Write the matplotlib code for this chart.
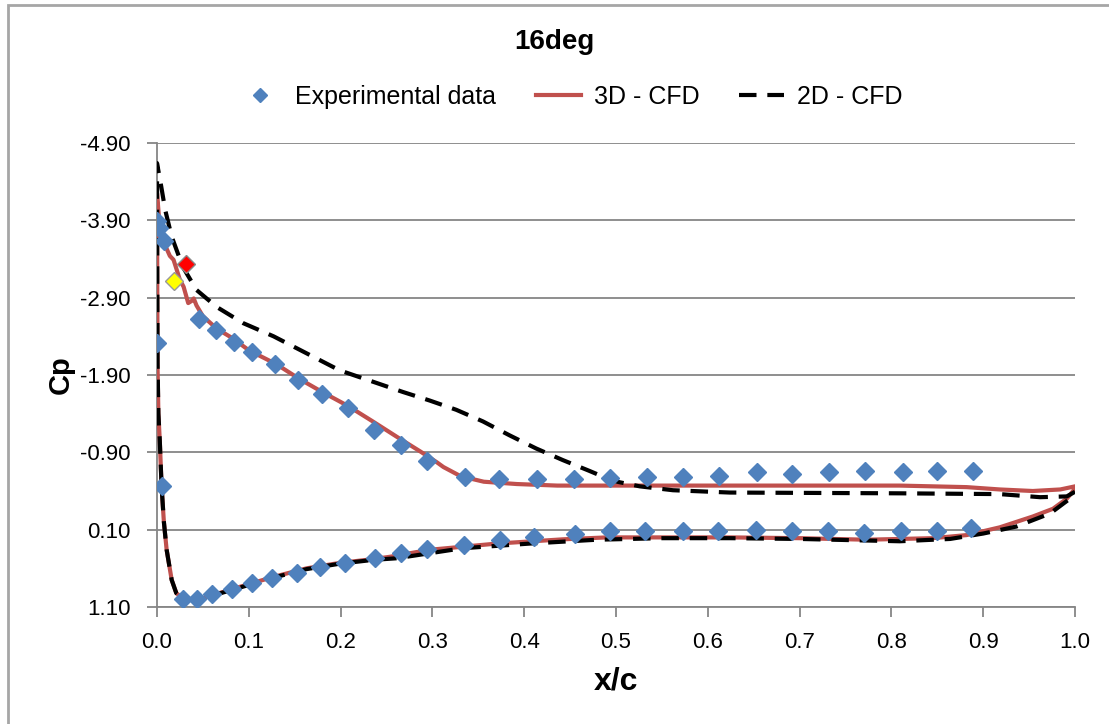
import numpy as np
import matplotlib
matplotlib.use("Agg")
import matplotlib.pyplot as plt
from matplotlib.patches import Rectangle

plt.rcParams['font.family'] = ['Liberation Sans', 'DejaVu Sans']

# -------------------------------
# DATA
# -------------------------------
# experimental data, suction side
x_exp_up = [0.000, 0.002, 0.008, 0.046, 0.064, 0.084, 0.103, 0.129, 0.154, 0.180,
            0.208, 0.236, 0.266, 0.294, 0.336, 0.373, 0.414, 0.454, 0.493, 0.534,
            0.573, 0.612, 0.654, 0.692, 0.732, 0.771, 0.813, 0.850, 0.889]
cp_exp_up = [-3.89, -3.80, -3.63, -2.63, -2.48, -2.33, -2.20, -2.04, -1.84, -1.65,
             -1.47, -1.19, -1.00, -0.79, -0.58, -0.56, -0.55, -0.55, -0.57, -0.58,
             -0.58, -0.60, -0.65, -0.62, -0.64, -0.66, -0.65, -0.66, -0.66]

# experimental data, pressure side
x_exp_lo = [0.000, 0.005, 0.028, 0.044, 0.060, 0.082, 0.103, 0.125, 0.153, 0.178,
            0.205, 0.237, 0.266, 0.294, 0.334, 0.374, 0.411, 0.455, 0.493, 0.532,
            0.573, 0.611, 0.652, 0.692, 0.731, 0.770, 0.811, 0.850, 0.887]
cp_exp_lo = [-2.31, -0.46, 1.00, 1.00, 0.93, 0.87, 0.79, 0.72, 0.66, 0.58,
             0.53, 0.46, 0.40, 0.35, 0.30, 0.24, 0.19, 0.16, 0.12, 0.12,
             0.12, 0.12, 0.10, 0.12, 0.12, 0.14, 0.12, 0.12, 0.08]

# two highlighted experimental points
x_red, cp_red = [0.032], [-3.34]
x_yellow, cp_yellow = [0.0185], [-3.12]

# 3D CFD, suction side
x_3d_up = [0.000, 0.003, 0.008, 0.014, 0.018, 0.025, 0.029, 0.034, 0.038, 0.040,
           0.043, 0.050, 0.065, 0.083, 0.100, 0.130, 0.155, 0.180, 0.208, 0.235,
           0.264, 0.287, 0.305, 0.312, 0.331, 0.356, 0.392, 0.436, 0.480, 0.540,
           0.624, 0.809, 0.882, 0.918, 0.954, 0.984, 1.000]
cp_3d_up = [-4.25, -3.82, -3.60, -3.44, -3.39, -3.13, -3.04, -2.83, -2.86, -2.89,
            -2.80, -2.66, -2.50, -2.37, -2.22, -2.04, -1.85, -1.68, -1.50, -1.30,
            -1.08, -0.91, -0.77, -0.71, -0.59, -0.52, -0.49, -0.47, -0.47, -0.47,
            -0.47, -0.47, -0.45, -0.42, -0.40, -0.42, -0.46]

# 3D CFD, pressure side
x_3d_lo = [0.000, 0.0003, 0.0006, 0.0015, 0.003, 0.005, 0.0075, 0.0105, 0.016, 0.021,
           0.029, 0.043, 0.061, 0.090, 0.127, 0.163, 0.199, 0.236, 0.254, 0.297,
           0.370, 0.442, 0.490, 0.624, 0.700, 0.773, 0.845, 0.882, 0.918, 0.954,
           0.976, 0.991, 1.000]
cp_3d_lo = [-4.25, -3.00, -2.00, -1.40, -1.06, -0.46, 0.00, 0.36, 0.75, 0.92,
            1.00, 1.01, 0.945, 0.84, 0.71, 0.60, 0.53, 0.48, 0.45, 0.36,
            0.28, 0.225, 0.20, 0.20, 0.21, 0.23, 0.21, 0.17, 0.07, -0.07,
            -0.17, -0.30, -0.43]

# 2D CFD, suction side
x_2d_up = [0.000, 0.004, 0.009, 0.016, 0.028, 0.043, 0.065, 0.094, 0.127,
           0.199, 0.236, 0.268, 0.297, 0.326, 0.355, 0.384, 0.413, 0.442, 0.471,
           0.497, 0.526, 0.562, 0.624, 0.809, 0.918, 0.962, 0.991, 1.000]
cp_2d_up = [-4.64, -4.38, -4.03, -3.69, -3.30, -3.00, -2.78, -2.57, -2.40,
            -1.96, -1.81, -1.68, -1.57, -1.45, -1.30, -1.12, -0.95, -0.80, -0.66,
            -0.53, -0.46, -0.41, -0.38, -0.37, -0.36, -0.32, -0.33, -0.39]

# 2D CFD, pressure side
x_2d_lo = [0.000, 0.0003, 0.0006, 0.0015, 0.003, 0.005, 0.0075, 0.0105, 0.016, 0.021,
           0.029, 0.043, 0.061, 0.090, 0.127, 0.163, 0.199, 0.236, 0.261, 0.333,
           0.406, 0.479, 0.551, 0.624, 0.700, 0.809, 0.864, 0.900, 0.936, 0.973,
           1.000]
cp_2d_lo = [-4.64, -3.10, -2.05, -1.40, -1.06, -0.46, 0.00, 0.36, 0.75, 0.92,
            1.00, 1.01, 0.95, 0.85, 0.72, 0.61, 0.54, 0.49, 0.47, 0.34,
            0.28, 0.23, 0.21, 0.21, 0.22, 0.25, 0.22, 0.15, 0.06, -0.11,
            -0.35]

y_ticks = [-4.90, -3.90, -2.90, -1.90, -0.90, 0.10, 1.10]
x_ticks = [0.0, 0.1, 0.2, 0.3, 0.4, 0.5, 0.6, 0.7, 0.8, 0.9, 1.0]

# -------------------------------
# PLOT
# -------------------------------
W, H = 1109, 724
fig = plt.figure(figsize=(W / 100, H / 100), dpi=100)
ax = fig.add_axes([157 / W, (H - 607) / H, 918 / W, 464 / H])

grey = '#868686'
blue = '#4F81BD'
red = '#C0504D'

# closed loops: suction side TE->LE, then pressure side LE->TE
x3 = x_3d_up[::-1] + x_3d_lo
c3 = cp_3d_up[::-1] + cp_3d_lo
x2 = x_2d_up[::-1] + x_2d_lo
c2 = cp_2d_up[::-1] + cp_2d_lo

ax.plot(x3, c3, color=red, lw=3.0, zorder=3, solid_joinstyle='round', label='3D - CFD')
ax.plot(x2, c2, color='black', lw=3.0, dashes=(4.2, 2.6), zorder=4, label='2D - CFD')
ax.plot(x_exp_up + x_exp_lo, cp_exp_up + cp_exp_lo, ls='none', marker='D',
        ms=9.5, color=blue, mec=blue, zorder=5, label='Experimental data')
ax.plot(x_red, cp_red, ls='none', marker='D', ms=9.5, color='#FF0000', mec='#888888', zorder=6)
ax.plot(x_yellow, cp_yellow, ls='none', marker='D', ms=9.5, color='#FFFF00', mec='#999999', zorder=6)

ax.set_xlim(0, 1)
ax.set_ylim(1.10, -4.90)
ax.set_xticks(x_ticks)
ax.set_xticklabels(['%.1f' % v for v in x_ticks])
ax.set_yticks(y_ticks)
ax.set_yticklabels(['%.2f' % v for v in y_ticks])

ax.yaxis.grid(True, color=grey, lw=1.3)
ax.set_axisbelow(True)
for s in ['top', 'right']:
    ax.spines[s].set_visible(False)
for s in ['left', 'bottom']:
    ax.spines[s].set_color(grey)
    ax.spines[s].set_linewidth(1.3)
ax.tick_params(axis='both', direction='out', length=7, width=1.3, color=grey,
               labelsize=16, labelcolor='black')
ax.tick_params(axis='y', pad=12)
ax.tick_params(axis='x', pad=11)

ax.set_xlabel('x/c', fontsize=23, fontweight='bold', labelpad=10)
ax.set_ylabel('Cp', fontsize=21, fontweight='bold', labelpad=4)

fig.text(0.5, 1 - 42 / H, '16deg', ha='center', va='center', fontsize=20, fontweight='bold')

handles, labels = ax.get_legend_handles_labels()
order = [2, 0, 1]
leg = fig.legend([handles[i] for i in order], [labels[i] for i in order],
                 loc='center', bbox_to_anchor=(570 / W, 1 - 97 / H), ncol=3,
                 frameon=False, fontsize=18, handlelength=1.8, columnspacing=1.6,
                 handletextpad=0.5, markerscale=0.7)

# chart area border (only left and top edges are inside the picture)
fig.patches.append(Rectangle((8 / W, -0.1), 1.2, 1.1 - 5 / H, transform=fig.transFigure,
                             fill=False, edgecolor='#A6A6A6', lw=2.0))

fig.savefig('out.png', dpi=100)
